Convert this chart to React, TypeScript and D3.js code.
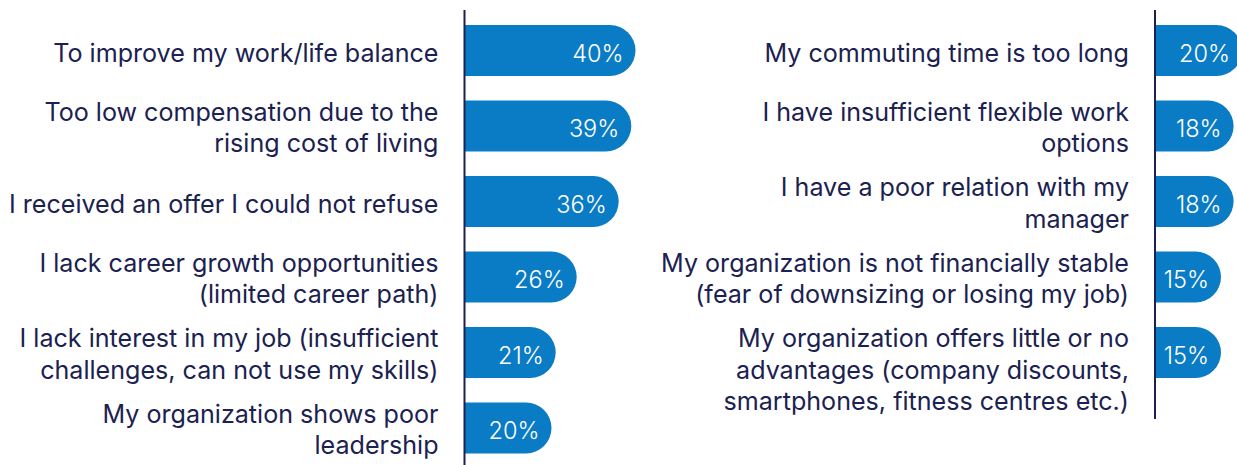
import React from "react";
import * as d3 from "d3";

const leftCategories = [
  "To improve my work/life balance",
  "Too low compensation due to the\nrising cost of living",
  "I received an offer I could not refuse",
  "I lack career growth opportunities\n(limited career path)",
  "I lack interest in my job (insufficient\nchallenges, can not use my skills)",
  "My organization shows poor\nleadership",
];
const leftValues = [40, 39, 36, 26, 21, 20];

const rightCategories = [
  "My commuting time is too long",
  "I have insufficient flexible work\noptions",
  "I have a poor relation with my\nmanager",
  "My organization is not financially stable\n(fear of downsizing or losing my job)",
  "My organization offers little or no\nadvantages (company discounts,\nsmartphones, fitness centres etc.)",
];
const rightValues = [20, 18, 18, 15, 15];

const W = 1237;
const H = 465;
const BLUE = "#0a7cc5";
const NAVY = "#1b2150";
const FONT = "Inter, 'Noto Sans', sans-serif";
const STEP = 75.5;
const BAND = 51;
const TOP = 12.75;
const PX_PER_PCT = 4.2;

function barPath(x0: number, x1: number, y: number, h: number) {
  const r = Math.min(h / 2, Math.max(0, x1 - x0));
  return `M${x0},${y}H${x1 - r}A${r},${r} 0 0 1 ${x1},${y + r}V${y + h - r}A${r},${r} 0 0 1 ${x1 - r},${y + h}H${x0}Z`;
}

function Panel({
  categories,
  values,
  axisX,
  axisTop,
  axisBottom,
}: {
  categories: string[];
  values: number[];
  axisX: number;
  axisTop: number;
  axisBottom: number;
}) {
  const ids = categories.map((_, i) => String(i));
  const y = d3
    .scaleBand<string>()
    .domain(ids)
    .range([TOP, TOP + ids.length * STEP])
    .paddingInner((STEP - BAND) / STEP)
    .paddingOuter((STEP - BAND) / STEP / 2);
  const origin = axisX + 3;
  const x = d3.scaleLinear().domain([0, 40]).range([origin, origin + 40 * PX_PER_PCT]);
  const bw = y.bandwidth();
  return (
    <g>
      {categories.map((c, i) => {
        const top = y(String(i)) as number;
        const cy = top + bw / 2;
        const lines = c.split("\n");
        const first = lines.length === 1 ? cy + 11.8 : cy - 5.5;
        return (
          <g key={i}>
            <path d={barPath(axisX, x(values[i]), top, bw)} fill={BLUE} />
            <text
              x={x(values[i]) - 12}
              y={cy + 11}
              textAnchor="end"
              fill="#ffffff"
              fontSize={23.5}
              fontWeight={300}
              fontFamily={FONT}
            >
              {values[i]}%
            </text>
            <text textAnchor="end" fill={NAVY} fontSize={25.1} fontFamily={FONT}>
              {lines.map((l, j) => (
                <tspan key={j} x={axisX - 26} y={first + j * 31.7}>
                  {l}
                </tspan>
              ))}
            </text>
          </g>
        );
      })}
      <line x1={axisX} x2={axisX} y1={axisTop} y2={axisBottom} stroke={NAVY} strokeWidth={2} />
    </g>
  );
}

export default function App() {
  return (
    <svg
      width={W}
      height={H}
      style={{ position: "absolute", left: 0, top: 0, background: "#fff" }}
    >
      <Panel categories={leftCategories} values={leftValues} axisX={464.5} axisTop={10} axisBottom={465} />
      <Panel categories={rightCategories} values={rightValues} axisX={1155} axisTop={10} axisBottom={419} />
    </svg>
  );
}
